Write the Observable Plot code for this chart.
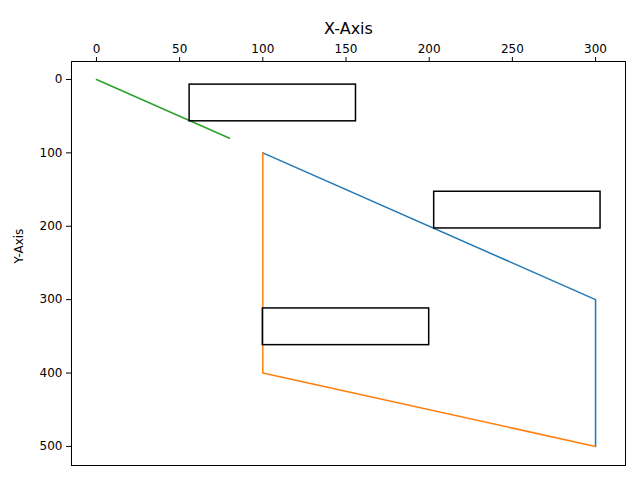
<!DOCTYPE html>
<html><head>
<script src="https://cdn.jsdelivr.net/npm/d3@7"></script>
<script src="https://cdn.jsdelivr.net/npm/@observablehq/plot@0.6"></script>
<style>body{margin:0;background:#fff}</style>
</head><body><div id="chart"></div>
<script>
var blueX = [100, 300, 300], blueY = [100, 300, 500]
var orangeX = [100, 100, 300], orangeY = [100, 400, 500]
var greenX = [0, 80], greenY = [0, 80]
var rectX1 = [56, 203, 100], rectX2 = [156, 303, 200]
var rectY1 = [7, 153, 312], rectY2 = [57, 203, 362]
var xTicks = [0, 50, 100, 150, 200, 250, 300]
var yTicks = [0, 100, 200, 300, 400, 500]

var pts = (xs, ys) => xs.map((x, i) => ({x: x, y: ys[i]}))
var rects = rectX1.map((x1, i) => ({x1: x1, x2: rectX2[i], y1: rectY1[i], y2: rectY2[i]}))

var chart = Plot.plot({
  width: 640, height: 480,
  marginTop: 61, marginLeft: 71, marginRight: 15, marginBottom: 15,
  style: {fontFamily: "DejaVu Sans", fontSize: "12px", color: "black"},
  x: {domain: [-15, 318]},
  y: {domain: [-24.5, 526], reverse: true},
  marks: [
    Plot.frame({stroke: "black"}),
    Plot.axisX({anchor: "top", ticks: xTicks, tickSize: 5, fontSize: 12, label: null}),
    Plot.axisY({ticks: yTicks, tickSize: 5, fontSize: 12, label: null}),
    Plot.text(["X-Axis"], {frameAnchor: "top", dy: -39, fontSize: 16, text: d => d}),
    Plot.text(["Y-Axis"], {frameAnchor: "left", dx: -52, rotate: -90, fontSize: 12, text: d => d}),
    Plot.line(pts(blueX, blueY), {x: "x", y: "y", stroke: "#1f77b4", strokeWidth: 1.5}),
    Plot.line(pts(orangeX, orangeY), {x: "x", y: "y", stroke: "#ff7f0e", strokeWidth: 1.5}),
    Plot.line(pts(greenX, greenY), {x: "x", y: "y", stroke: "#2ca02c", strokeWidth: 1.5}),
    Plot.rect(rects, {x1: "x1", x2: "x2", y1: "y1", y2: "y2", fill: "none", stroke: "black", strokeWidth: 1.5})
  ]
})
d3.select("#chart").append(() => chart)
</script>
</body></html>
